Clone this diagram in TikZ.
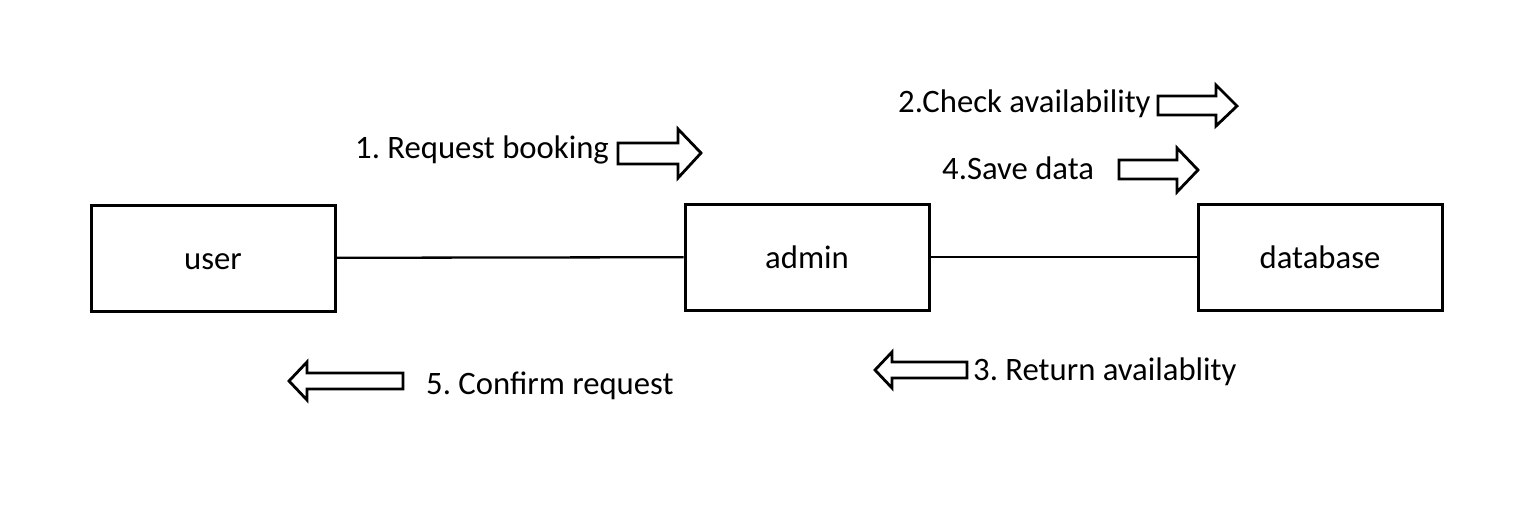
\documentclass[tikz,border=0pt]{standalone}
\usepackage{fontspec}
\setmainfont{Carlito}
\frenchspacing
\begin{document}
\begin{tikzpicture}[x=1pt, y=-1pt,
        every node/.style={font=\fontsize{32.7}{39}\selectfont},
        entity/.style={draw, line width=3pt, minimum width=244pt, minimum height=106pt, text height=22pt, text depth=0pt, inner sep=0pt},
        msg/.style={anchor=base west, inner sep=0pt},
        blockarrow/.style={draw, line width=2.8pt, fill=white, line join=miter}]
        \useasboundingbox (0, 0) rectangle (1520, 524);

        \path (213, 258)  node[entity] (user)     {user};
        \path (807, 257)  node[entity] (admin)    {admin};
        \path (1320, 257) node[entity] (database) {database};

        \draw[line width=2.3pt] (user) -- (admin);
        \draw[line width=2.3pt] (admin) -- (database);

        \path (355, 158) node[msg] (m1) {1. Request booking};
        \path (898, 113) node[msg] (m2) {2.Check availability};
        \path (973, 380) node[msg] (m3) {3. Return availablity};
        \path (942, 179) node[msg] (m4) {4.Save data};
        \path (426, 394) node[msg] (m5) {5. Confirm request};

        % block arrows
        \draw[blockarrow] (618, 143) -- (678, 143) -- (678, 129) -- (701, 153) -- (678, 178) -- (678, 164) -- (618, 164) -- cycle;
        \draw[blockarrow] (1158, 96) -- (1216, 96) -- (1216, 85) -- (1237, 106) -- (1216, 126) -- (1216, 115) -- (1158, 115) -- cycle;
        \draw[blockarrow] (1119, 160) -- (1177, 160) -- (1177, 148) -- (1198, 170) -- (1177, 192) -- (1177, 179) -- (1119, 179) -- cycle;
        \draw[blockarrow] (967, 362) -- (892, 362) -- (892, 352) -- (875, 370) -- (892, 388) -- (892, 378) -- (967, 378) -- cycle;
        \draw[blockarrow] (403, 373) -- (307, 373) -- (307, 362) -- (289, 381) -- (307, 400) -- (307, 389) -- (403, 389) -- cycle;
    \end{tikzpicture}
\end{document}
